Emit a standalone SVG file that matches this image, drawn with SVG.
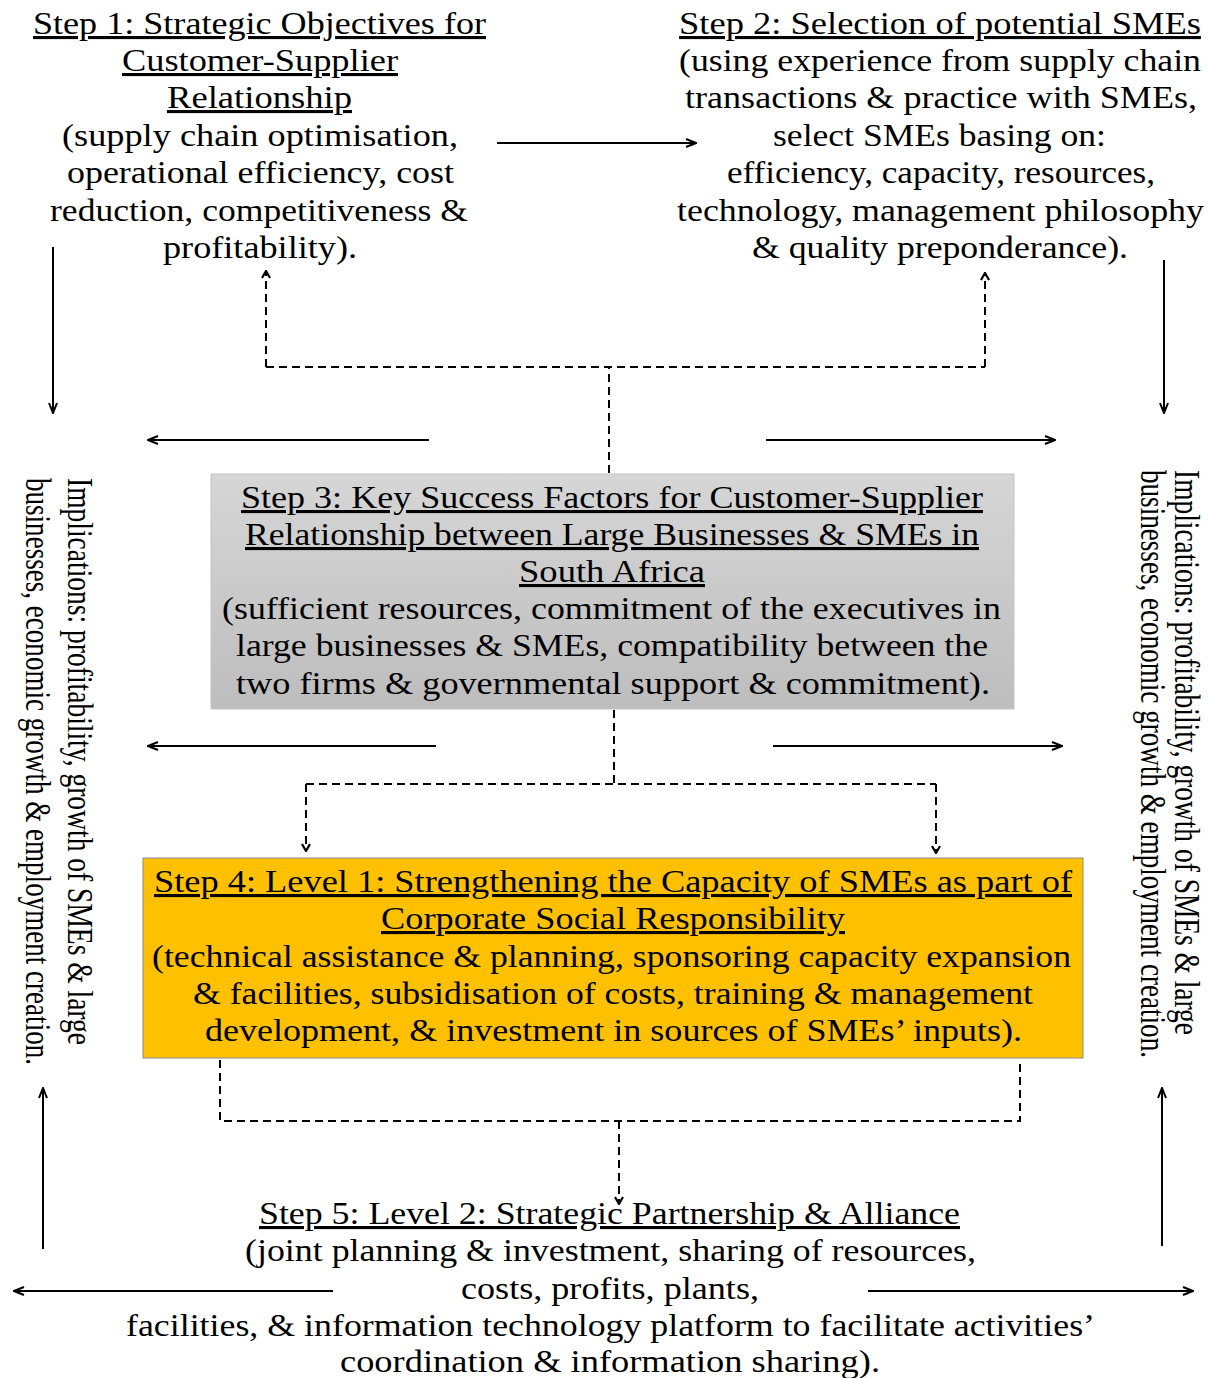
<svg xmlns="http://www.w3.org/2000/svg" width="1211" height="1378" viewBox="0 0 1211 1378">
<style>
  .t { font-family: "Liberation Serif", "Times New Roman", serif; font-size: 31px; fill: #000; }
  .h { text-decoration: underline; }
  .side { font-family: "Liberation Serif", "Times New Roman", serif; font-size: 35px; fill: #000; }
  .solid { stroke: #000; stroke-width: 2; fill: none; marker-end: url(#ah); }
  .dash { stroke: #000; stroke-width: 2; fill: none; stroke-dasharray: 8 5; }
  .dasha { stroke: #000; stroke-width: 2; fill: none; stroke-dasharray: 8 5; marker-end: url(#dh); }
</style>
<defs>
  <marker id="ah" viewBox="0 0 12 10" refX="11" refY="5" markerWidth="12" markerHeight="10" markerUnits="userSpaceOnUse" orient="auto">
    <path d="M1,1 L11,5 L1,9" fill="none" stroke="#000" stroke-width="2"/>
  </marker>
  <marker id="dh" viewBox="0 0 10 10" refX="9" refY="5" markerWidth="10" markerHeight="10" markerUnits="userSpaceOnUse" orient="auto">
    <path d="M2,1 L9,5 L2,9" fill="none" stroke="#000" stroke-width="2.2"/>
  </marker>
  <linearGradient id="g3" x1="0" y1="0" x2="0" y2="1">
    <stop offset="0" stop-color="#d6d6d6"/>
    <stop offset="1" stop-color="#bdbdbd"/>
  </linearGradient>
</defs>

<g id="connectors">
  <line class="solid" x1="497" y1="143" x2="696" y2="143"/>
  <line class="solid" x1="53" y1="247" x2="53" y2="413"/>
  <line class="solid" x1="1164" y1="260" x2="1164" y2="413"/>
  <line class="solid" x1="429" y1="440" x2="148" y2="440"/>
  <line class="solid" x1="766" y1="440" x2="1055" y2="440"/>
  <line class="solid" x1="436" y1="746" x2="148" y2="746"/>
  <line class="solid" x1="773" y1="746" x2="1062" y2="746"/>
  <line class="solid" x1="333" y1="1291" x2="14" y2="1291"/>
  <line class="solid" x1="868" y1="1291" x2="1193" y2="1291"/>
  <line class="solid" x1="43" y1="1249" x2="43" y2="1088"/>
  <line class="solid" x1="1162" y1="1246" x2="1162" y2="1088"/>

  <line class="dash" x1="609" y1="473" x2="609" y2="368"/>
  <line class="dash" x1="266" y1="367" x2="985" y2="367"/>
  <line class="dasha" x1="266" y1="367" x2="266" y2="271"/>
  <line class="dasha" x1="985" y1="367" x2="985" y2="273"/>

  <line class="dash" x1="614" y1="710" x2="614" y2="784"/>
  <line class="dash" x1="306" y1="784" x2="936" y2="784"/>
  <line class="dasha" x1="306" y1="784" x2="306" y2="851"/>
  <line class="dasha" x1="936" y1="784" x2="936" y2="853"/>

  <polyline class="dash" points="220,1060 220,1121 1020,1121 1020,1060"/>
  <line class="dasha" x1="619" y1="1121" x2="619" y2="1204"/>
</g>

<g id="step1">
  <text class="t h" x="33" y="34" textLength="453" lengthAdjust="spacingAndGlyphs">Step 1: Strategic Objectives for</text>
  <text class="t h" x="122" y="71" textLength="276" lengthAdjust="spacingAndGlyphs">Customer-Supplier</text>
  <text class="t h" x="167" y="108" textLength="185" lengthAdjust="spacingAndGlyphs">Relationship</text>
  <text class="t" x="62" y="146" textLength="396" lengthAdjust="spacingAndGlyphs">(supply chain optimisation,</text>
  <text class="t" x="67" y="183" textLength="387" lengthAdjust="spacingAndGlyphs">operational efficiency, cost</text>
  <text class="t" x="50" y="221" textLength="418" lengthAdjust="spacingAndGlyphs">reduction, competitiveness &amp;</text>
  <text class="t" x="163" y="258" textLength="194" lengthAdjust="spacingAndGlyphs">profitability).</text>
</g>

<g id="step2">
  <text class="t h" x="679" y="34" textLength="522" lengthAdjust="spacingAndGlyphs">Step 2: Selection of potential SMEs</text>
  <text class="t" x="679" y="71" textLength="522" lengthAdjust="spacingAndGlyphs">(using experience from supply chain</text>
  <text class="t" x="685" y="108" textLength="512" lengthAdjust="spacingAndGlyphs">transactions &amp; practice with SMEs,</text>
  <text class="t" x="773" y="146" textLength="333" lengthAdjust="spacingAndGlyphs">select SMEs basing on:</text>
  <text class="t" x="727" y="183" textLength="428" lengthAdjust="spacingAndGlyphs">efficiency, capacity, resources,</text>
  <text class="t" x="677" y="221" textLength="527" lengthAdjust="spacingAndGlyphs">technology, management philosophy</text>
  <text class="t" x="752" y="258" textLength="376" lengthAdjust="spacingAndGlyphs">&amp; quality preponderance).</text>
</g>

<g id="step3">
  <rect x="211" y="474" width="803" height="235" fill="url(#g3)" stroke="#c4c4c4" stroke-width="1"/>
  <text class="t h" x="241" y="508" textLength="742" lengthAdjust="spacingAndGlyphs">Step 3: Key Success Factors for Customer-Supplier</text>
  <text class="t h" x="245" y="545" textLength="734" lengthAdjust="spacingAndGlyphs">Relationship between Large Businesses &amp; SMEs in</text>
  <text class="t h" x="519" y="582" textLength="186" lengthAdjust="spacingAndGlyphs">South Africa</text>
  <text class="t" x="222" y="619" textLength="779" lengthAdjust="spacingAndGlyphs">(sufficient resources, commitment of the executives in</text>
  <text class="t" x="236" y="656" textLength="752" lengthAdjust="spacingAndGlyphs">large businesses &amp; SMEs, compatibility between the</text>
  <text class="t" x="236" y="694" textLength="754" lengthAdjust="spacingAndGlyphs">two firms &amp; governmental support &amp; commitment).</text>
</g>

<g id="step4">
  <rect x="143" y="858" width="940" height="200" fill="#ffc000" stroke="#8a8a8a" stroke-width="1"/>
  <text class="t h" x="154" y="892" textLength="918" lengthAdjust="spacingAndGlyphs">Step 4: Level 1: Strengthening the Capacity of SMEs as part of</text>
  <text class="t h" x="381" y="929" textLength="464" lengthAdjust="spacingAndGlyphs">Corporate Social Responsibility</text>
  <text class="t" x="152" y="967" textLength="919" lengthAdjust="spacingAndGlyphs">(technical assistance &amp; planning, sponsoring capacity expansion</text>
  <text class="t" x="193" y="1004" textLength="840" lengthAdjust="spacingAndGlyphs">&amp; facilities, subsidisation of costs, training &amp; management</text>
  <text class="t" x="205" y="1041" textLength="817" lengthAdjust="spacingAndGlyphs">development, &amp; investment in sources of SMEs’ inputs).</text>
</g>

<g id="step5">
  <text class="t h" x="259" y="1224" textLength="701" lengthAdjust="spacingAndGlyphs">Step 5: Level 2: Strategic Partnership &amp; Alliance</text>
  <text class="t" x="245" y="1261" textLength="731" lengthAdjust="spacingAndGlyphs">(joint planning &amp; investment, sharing of resources,</text>
  <text class="t" x="461" y="1299" textLength="298" lengthAdjust="spacingAndGlyphs">costs, profits, plants,</text>
  <text class="t" x="126" y="1336" textLength="969" lengthAdjust="spacingAndGlyphs">facilities, &amp; information technology platform to facilitate activities’</text>
  <text class="t" x="340" y="1372" textLength="540" lengthAdjust="spacingAndGlyphs">coordination &amp; information sharing).</text>
</g>

<g id="implications-left">
  <text class="side" transform="translate(68,478) rotate(90)" x="0" y="0" textLength="567" lengthAdjust="spacingAndGlyphs">Implications: profitability, growth of SMEs &amp; large</text>
  <text class="side" transform="translate(26,478) rotate(90)" x="0" y="0" textLength="587" lengthAdjust="spacingAndGlyphs">businesses, economic growth &amp; employment creation.</text>
</g>

<g id="implications-right">
  <text class="side" transform="translate(1175,470) rotate(90)" x="0" y="0" textLength="565" lengthAdjust="spacingAndGlyphs">Implications: profitability, growth of SMEs &amp; large</text>
  <text class="side" transform="translate(1141,470) rotate(90)" x="0" y="0" textLength="588" lengthAdjust="spacingAndGlyphs">businesses, economic growth &amp; employment creation.</text>
</g>
</svg>
